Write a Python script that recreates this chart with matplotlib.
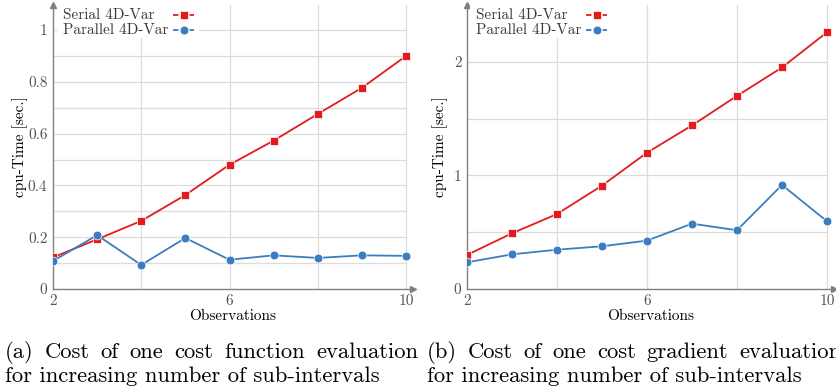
import matplotlib
matplotlib.use("Agg")
import matplotlib.pyplot as plt
from matplotlib.patches import Rectangle
import numpy as np

plt.rcParams['font.family'] = 'serif'
plt.rcParams['font.serif'] = ['cmr10']
plt.rcParams['mathtext.fontset'] = 'cm'
plt.rcParams['axes.formatter.use_mathtext'] = True

# Data
observations = [2, 3, 4, 5, 6, 7, 8, 9, 10]
serial_func = [0.122, 0.192, 0.263, 0.363, 0.48, 0.573, 0.676, 0.777, 0.90]
parallel_func = [0.108, 0.208, 0.093, 0.197, 0.113, 0.13, 0.12, 0.13, 0.128]
serial_grad = [0.30, 0.49, 0.66, 0.91, 1.20, 1.44, 1.70, 1.95, 2.26]
parallel_grad = [0.235, 0.305, 0.346, 0.376, 0.426, 0.575, 0.517, 0.916, 0.596]

series_labels = ['Serial 4D-Var', 'Parallel 4D-Var']
caption_a = ["(a) Cost of one cost function evaluation",
             "for increasing number of sub-intervals"]
caption_b = ["(b) Cost of one cost gradient evaluation",
             "for increasing number of sub-intervals"]

RED = '#e41a1c'
BLUE = '#3a7ebf'
AXIS = '#808080'
GRID = '#dcdcdc'
TEXT = '#555555'

W, H = 836, 392
fig = plt.figure(figsize=(W / 100, H / 100), dpi=100)
renderer = fig.canvas.get_renderer()


def px(x, y):
    # pixel (from top-left) -> figure fraction
    return x / W, 1 - y / H


def make_axes(x0, x10, y0, ytop):
    per = (x10 - x0) / 8.0
    right = x10 + 0.15 * per
    ax = fig.add_axes([x0 / W, (H - y0) / H, (right - x0) / W, (y0 - ytop) / H])
    return ax


def style(ax, ymax, ystep_grid, yticks, yticklabels, ylab_x):
    ax.set_xlim(2, 10.15)
    ax.set_ylim(0, ymax)
    for s in ['top', 'right']:
        ax.spines[s].set_visible(False)
    for s in ['left', 'bottom']:
        ax.spines[s].set_color(AXIS)
        ax.spines[s].set_linewidth(1.0)
    ax.set_xticks([2, 6, 10])
    ax.set_xticklabels(['2', '6', '10'])
    ax.set_yticks(yticks)
    ax.set_yticklabels(yticklabels)
    ax.tick_params(length=0, colors=TEXT, labelsize=11, pad=4)
    for xv in [4, 6, 8, 10]:
        ax.axvline(xv, color=GRID, lw=0.9, zorder=0)
    for yv in np.arange(ystep_grid, ymax, ystep_grid):
        ax.plot([2, 10], [yv, yv], color=GRID, lw=0.9, zorder=0)
    ax.plot(1, 0, '>', color=AXIS, ms=5, transform=ax.transAxes, clip_on=False)
    ax.plot(0, 1, '^', color=AXIS, ms=5, transform=ax.transAxes, clip_on=False)
    ax.set_xlabel('Observations', fontsize=11)
    ax.xaxis.set_label_coords(0.5, -0.097)
    ax.xaxis.label.set_va('center')
    ax.set_ylabel('cpu-Time [sec.]', fontsize=11)
    ax.yaxis.set_label_coords(ylab_x, 0.5)
    ax.yaxis.label.set_va('center')


def draw(ax, serial, parallel, lx):
    ax.plot(observations, serial, '-', color=RED, lw=1.3, marker='s', ms=5.8,
            mec='white', mew=0.5, zorder=3)
    ax.plot(observations, parallel, '-', color=BLUE, lw=1.3, marker='o', ms=6.3,
            mec='white', mew=0.5, zorder=3)
    # legend drawn by hand: text first, dashed handle after
    fig.patches.append(Rectangle(px(lx - 6, 38), 142 / W, 38 / H, transform=fig.transFigure,
                                 facecolor='white', edgecolor='none', zorder=1))
    styles = [(RED, 's', 5.8), (BLUE, 'o', 6.3)]
    for i, (lab, (c, m, ms)) in enumerate(zip(series_labels, styles)):
        yc = 15 + 15 * i
        t = fig.text(*px(lx, yc), lab, fontsize=10, color='#3a3a3a', va='center',
                     ha='left', zorder=5)
        t.set_fontsize(10 * LEG_SCALE)
        x1, y1 = px(lx + 110, yc)
        x2, _ = px(lx + 131, yc)
        fig.lines.append(plt.Line2D([x1, x2], [y1, y1], transform=fig.transFigure,
                                    color=c, ls=(0, (3, 1.6)), lw=1.3, zorder=5))
        fig.lines.append(plt.Line2D([(x1 + x2) / 2], [y1], transform=fig.transFigure,
                                    color=c, marker=m, ms=ms, mec='white', mew=0.5, zorder=6))


def justify(words, x_left, x_right, y, size):
    texts = [fig.text(*px(x_left, y), w, fontsize=size, va='center', ha='left') for w in words]
    widths = [t.get_window_extent(renderer).width for t in texts]
    gap = (x_right - x_left - sum(widths)) / (len(words) - 1)
    x = x_left
    for t, w in zip(texts, widths):
        t.set_position(px(x, y))
        x += w + gap


# legend font size so "Parallel 4D-Var" is ~105 px wide, as in the reference
_probe = fig.text(0, 0, series_labels[1], fontsize=10)
LEG_SCALE = 105.0 / _probe.get_window_extent(renderer).width
_probe.remove()

ax1 = make_axes(53, 406, 289, 5)
style(ax1, 1.097, 0.1, [0, 0.2, 0.4, 0.6, 0.8, 1.0], ['0', '0.2', '0.4', '0.6', '0.8', '1'],
      -0.092)
draw(ax1, serial_func, parallel_func, 63)

ax2 = make_axes(467, 827, 289, 5)
style(ax2, 2.50, 0.5, [0, 1, 2], ['0', '1', '2'], -0.074)
draw(ax2, serial_grad, parallel_grad, 476)

CAP = 16.3
justify(caption_a[0].split(' '), 5, 418, 352, CAP)
fig.text(*px(5, 376), caption_a[1], fontsize=CAP, va='center', ha='left')
justify(caption_b[0].split(' '), 427, 841, 352, CAP)
fig.text(*px(427, 376), caption_b[1], fontsize=CAP, va='center', ha='left')

fig.savefig('out.png', dpi=100)
